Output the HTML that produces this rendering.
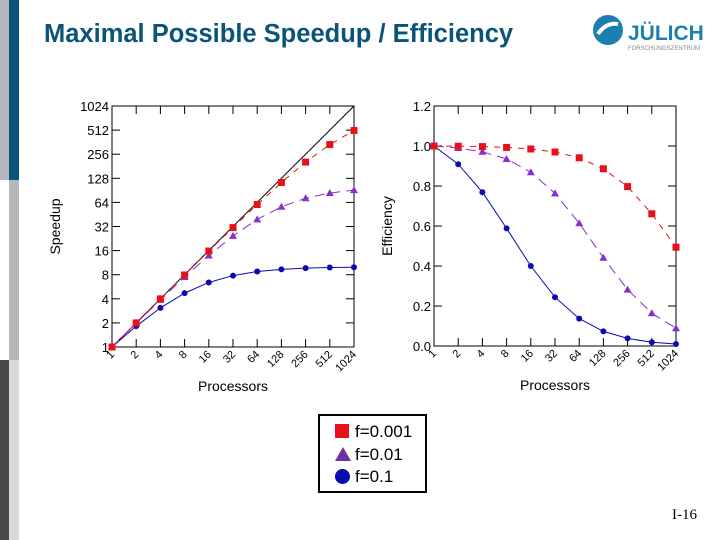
<!DOCTYPE html>
<html><head><meta charset="utf-8"><style>
body{margin:0;width:720px;height:540px;background:#fff;position:relative;overflow:hidden;font-family:"Liberation Sans",sans-serif}
.abs{position:absolute}
</style></head><body>
<div class="abs" style="left:0;top:0;width:9px;height:180px;background:#b4b7bc"></div>
<div class="abs" style="left:9px;top:0;width:10px;height:180px;background:#0b5479"></div>
<div class="abs" style="left:9px;top:180px;width:10px;height:180px;background:#b4b7bc"></div>
<div class="abs" style="left:0;top:360px;width:9px;height:180px;background:#4a4a4a"></div>
<div class="abs" style="left:9px;top:360px;width:10px;height:180px;background:#d8d9db"></div>
<div class="abs" style="left:44px;top:20px;font-size:25.5px;font-weight:bold;color:#0b5479">Maximal Possible Speedup / Efficiency</div>
<div class="abs" style="left:592px;top:14px;width:116px;height:40px">
 <svg width="116" height="40"><circle cx="16" cy="16" r="15" fill="#1d7fb0"/><path d="M6 20 Q14 8 26 10" stroke="#fff" stroke-width="4" fill="none"/>
 <text x="36" y="26" font-size="21" font-weight="bold" fill="#1d7fb0" font-family="Liberation Sans">JÜLICH</text>
 <text x="36" y="36" font-size="6" fill="#888" font-family="Liberation Sans">FORSCHUNGSZENTRUM</text></svg>
</div>
<svg id="chart" class="abs" style="left:0;top:0" width="720" height="540"></svg>
<div class="abs" style="left:318px;top:414px;width:105px;height:75px;border:2px solid #000;font-size:17px">
 <div style="position:absolute;left:15px;top:6px"><span style="display:inline-block;width:14px;height:14px;background:#e8101a;vertical-align:-1px;margin-right:6px"></span>f=0.001</div>
 <div style="position:absolute;left:15px;top:29px"><svg width="16" height="14" style="vertical-align:-1px;margin-right:4px"><polygon points="8,0 16,14 0,14" fill="#7030a0"/></svg>f=0.01</div>
 <div style="position:absolute;left:15px;top:51px"><span style="display:inline-block;width:15px;height:15px;border-radius:50%;background:#0a0ab0;vertical-align:-2px;margin-right:5px"></span>f=0.1</div>
</div>
<div class="abs" style="left:672px;top:507px;font-family:'Liberation Serif',serif;font-size:15px">I-16</div>
<script>
const procs=[1,2,4,8,16,32,64,128,256,512,1024];
const speedF0001=[1,2,3.99,7.94,15.8,31.0,60.2,113.4,204,338,506];
const speedF001=[1,1.98,3.88,7.48,13.9,24.4,39.3,56.4,72.1,83.8,91.2];
const speedF01=[1,1.82,3.08,4.71,6.4,7.8,8.77,9.34,9.66,9.83,9.91];
const effF0001=[1,0.999,0.997,0.993,0.985,0.970,0.941,0.886,0.797,0.661,0.494];
const effF001=[1,0.99,0.971,0.935,0.869,0.763,0.614,0.441,0.282,0.164,0.089];
const effF01=[1,0.909,0.769,0.588,0.4,0.244,0.137,0.073,0.038,0.019,0.01];
const speedTicks=[1,2,4,8,16,32,64,128,256,512,1024];
const effTicks=[0,0.2,0.4,0.6,0.8,1.0,1.2];
const svg=document.getElementById('chart');const NS='http://www.w3.org/2000/svg';
function mk(t,a,name){const e=document.createElementNS(NS,t);for(const k in a)e.setAttribute(k,a[k]);


svg.appendChild(e);return e;}
function build(L,R,T,B,xf,yf,yTicks,yFmt,series,ylab,pfx,yoff){
 mk('rect',{x:L,y:T,width:R-L,height:B-T,fill:'none',stroke:'#000','stroke-width':1},pfx+'-plot-frame');
 procs.forEach(p=>{const x=xf(p);mk('line',{x1:x,x2:x,y1:T,y2:T+8,stroke:'#000'},pfx+'-x-tick-top');mk('line',{x1:x,x2:x,y1:B,y2:B-8,stroke:'#000'},pfx+'-x-tick');
  const t=mk('text',{x:x+3,y:B+8,'font-size':11,'text-anchor':'end',transform:`rotate(-45 ${x+3} ${B+8})`},pfx+'-x-tick-label');t.textContent=p;});
 yTicks.forEach(v=>{const y=yf(v);mk('line',{x1:L,x2:L+8,y1:y,y2:y,stroke:'#000'},pfx+'-y-tick');mk('line',{x1:R,x2:R-8,y1:y,y2:y,stroke:'#000'},pfx+'-y-tick-right');
  const t=mk('text',{x:L-3,y:y+5,'font-size':13,'text-anchor':'end'},pfx+'-y-tick-label');t.textContent=yFmt(v);});
 series.forEach(s=>{const pts=s.v.map((v,i)=>xf(procs[i])+','+yf(v)).join(' ');
  mk('polyline',{points:pts,fill:'none',stroke:s.c,'stroke-width':1,'stroke-dasharray':s.d},pfx+'-line-'+s.n);
  s.v.forEach((v,i)=>{const x=xf(procs[i]),y=yf(v);
   if(s.m=='sq')mk('rect',{x:x-3.5,y:y-3.5,width:7,height:7,fill:s.c},pfx+'-point-'+s.n);
   else if(s.m=='tri')mk('polygon',{points:`${x},${y-4} ${x+4},${y+3} ${x-4},${y+3}`,fill:s.c},pfx+'-point-'+s.n);
   else mk('circle',{cx:x,cy:y,r:3,fill:s.c},pfx+'-point-'+s.n);});});
 const cx=(L+R)/2;const xl=mk('text',{x:cx,y:B+44,'font-size':14,'text-anchor':'middle'},pfx+'-x-axis-title');xl.textContent='Processors';
 const yy=(T+B)/2;const yl=mk('text',{x:L-yoff,y:yy,'font-size':14,'text-anchor':'middle',transform:`rotate(-90 ${L-yoff} ${yy})`},pfx+'-y-axis-title');yl.textContent=ylab;
}
const L1=112,R1=354,T1=106,B1=347;
const xs1=p=>L1+Math.log2(p)/10*(R1-L1), ys1=v=>B1-Math.log2(v)/10*(B1-T1);
mk('line',{x1:xs1(1),y1:ys1(1),x2:xs1(1024),y2:ys1(1024),stroke:'#000'},'ideal-speedup-line');
build(L1,R1,T1,B1,xs1,ys1,speedTicks,v=>v,[
 {v:speedF01,c:'#0a0ab0',d:'',m:'c',n:'f01'},{v:speedF001,c:'#8a2fc8',d:'10,6',m:'tri',n:'f001'},{v:speedF0001,c:'#e8101a',d:'6,6',m:'sq',n:'f0001'}],'Speedup','speedup',52);
const L2=434,R2=676,T2=106,B2=346;
const xs2=p=>L2+Math.log2(p)/10*(R2-L2), ys2=v=>B2-v/1.2*(B2-T2);
build(L2,R2,T2,B2,xs2,ys2,effTicks,v=>v.toFixed(1),[
 {v:effF01,c:'#0a0ab0',d:'',m:'c',n:'f01'},{v:effF001,c:'#8a2fc8',d:'10,6',m:'tri',n:'f001'},{v:effF0001,c:'#e8101a',d:'6,6',m:'sq',n:'f0001'}],'Efficiency','efficiency',42);
</script>
</body></html>
